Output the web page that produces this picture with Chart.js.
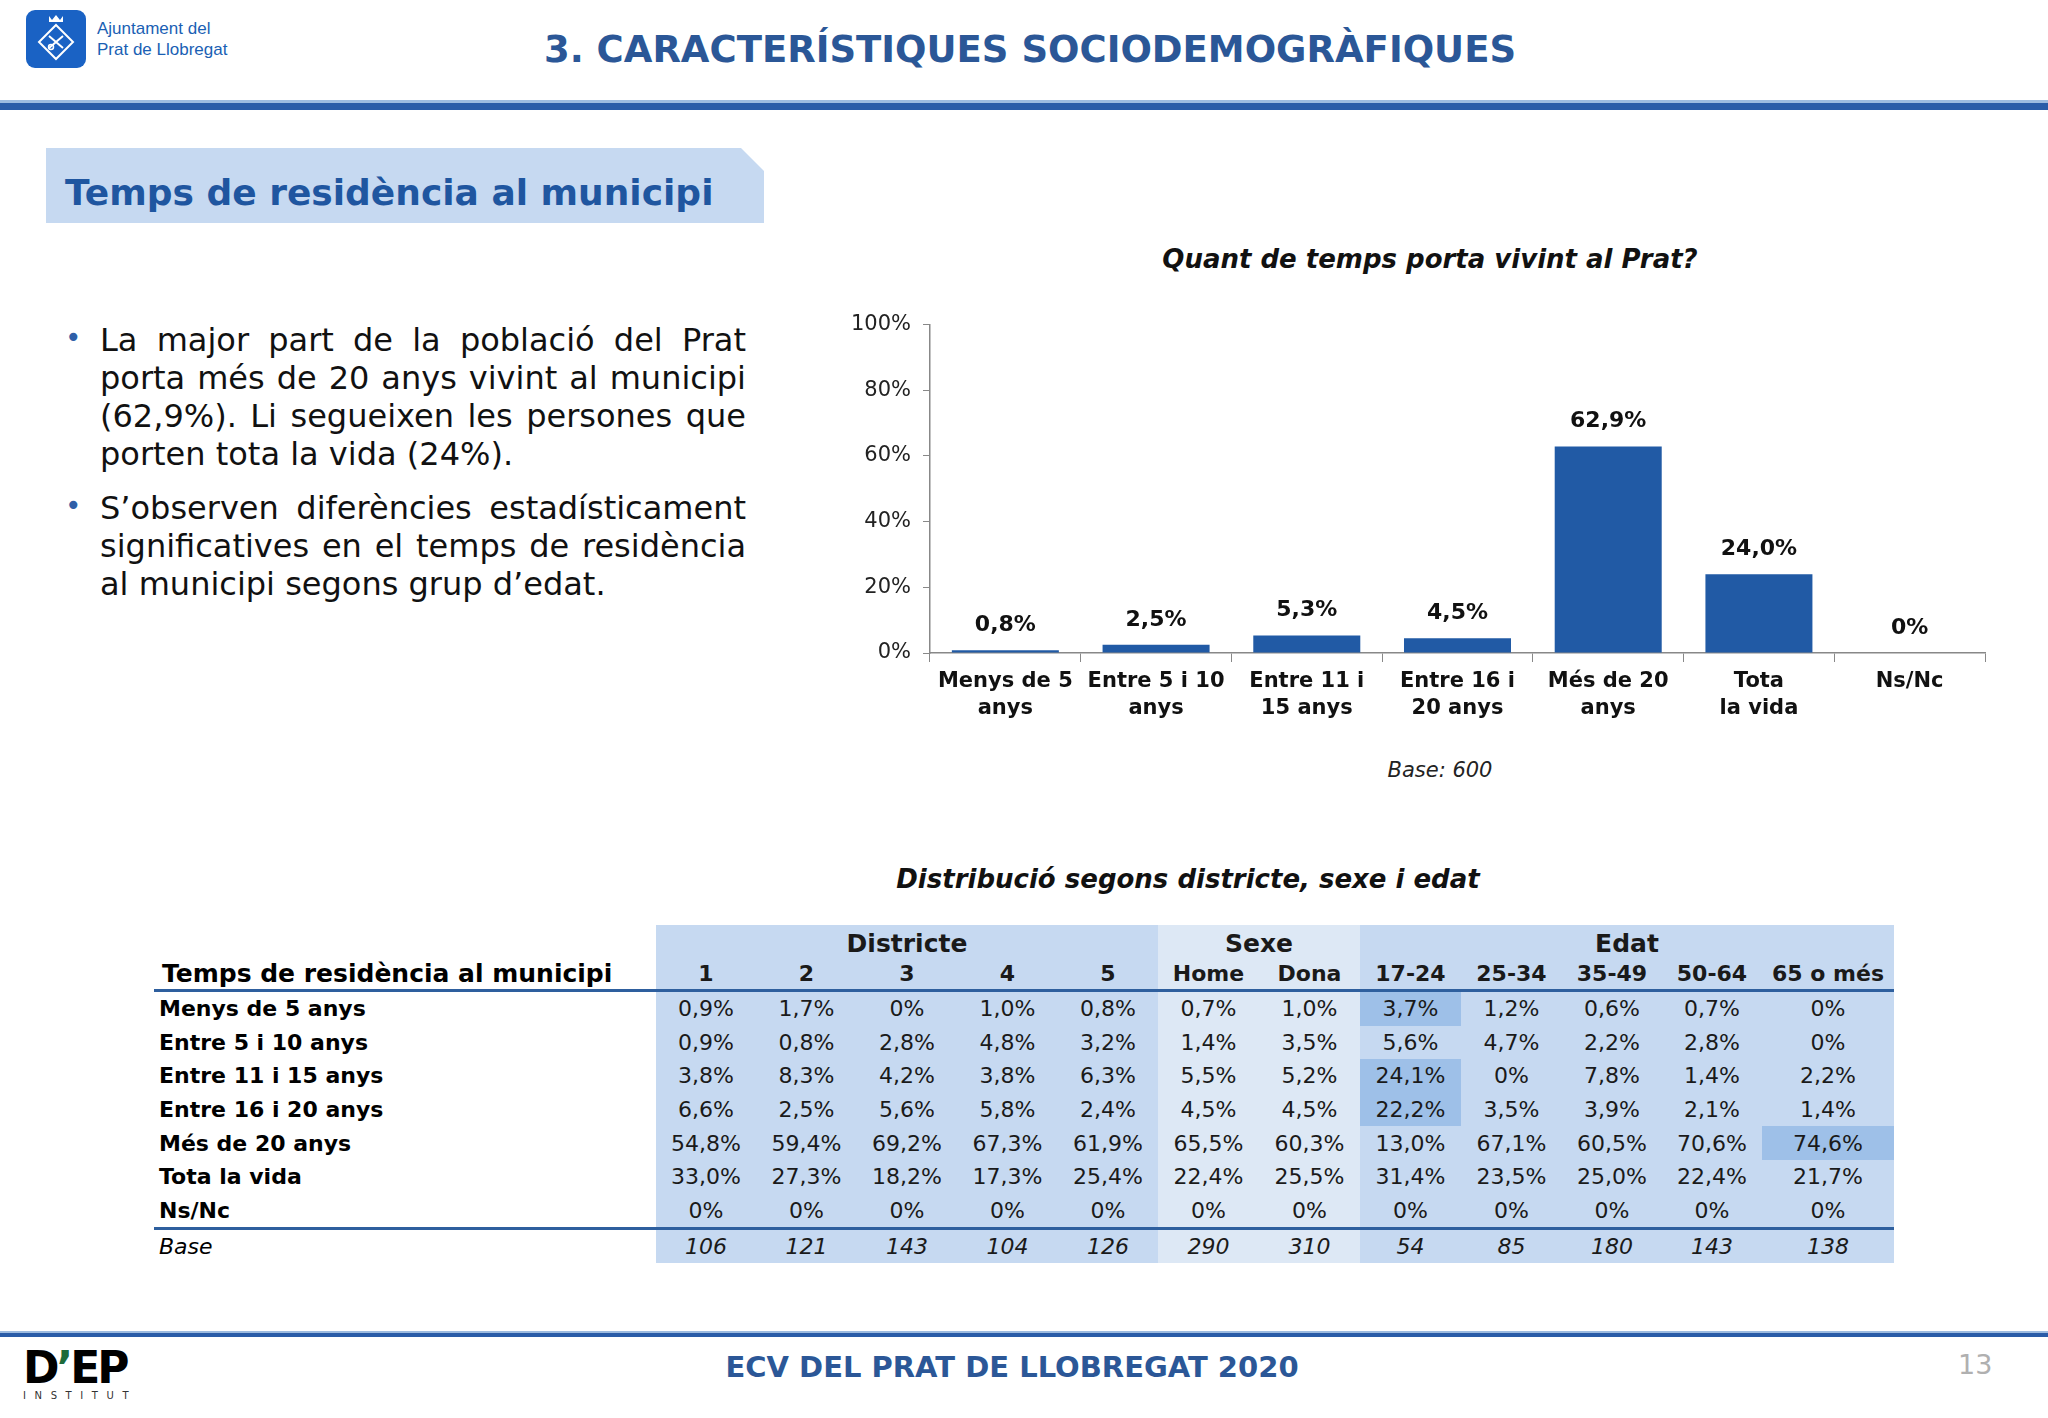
<!DOCTYPE html>
<html>
<head>
<meta charset="utf-8">
<script src="https://cdn.jsdelivr.net/npm/chart.js@4.4.1/dist/chart.umd.min.js"></script>
<style>
  html, body { margin: 0; padding: 0; background: #fff; }
  body { width: 2048px; height: 1418px; position: relative; overflow: hidden; font-family: "DejaVu Sans", Verdana, sans-serif; color: #111; }
  .abs { position: absolute; }
  #topline-light { left: 0; top: 100px; width: 2048px; height: 3px; background: #9dbbe0; }
  #topline { left: 0; top: 103px; width: 2048px; height: 7px; background: #2a5ca8; }
  #pagetitle { left: 0; top: 28px; width: 2060px; text-align: center; font-weight: bold; font-size: 37px; color: #2b5797; }
  #logo-text { left: 97px; top: 18px; font-family: "Liberation Sans Narrow", "Liberation Sans", sans-serif; font-size: 17px; line-height: 21px; color: #1a5fb4; }
  #section { left: 46px; top: 148px; width: 718px; height: 75px; background: #c6d9f1;
    clip-path: polygon(0 0, 695px 0, 718px 23px, 718px 75px, 0 75px); }
  #section span { position: absolute; left: 19px; top: 24px; font-weight: bold; font-size: 36px; color: #1f56a0; white-space: nowrap; }
  #bullets { left: 100px; top: 321px; width: 646px; font-size: 32px; line-height: 38px; color: #111; text-align: justify; }
  #bullets p { margin: 0 0 16px 0; position: relative; }
  #bullets p::before { content: "•"; position: absolute; left: -35px; top: -2px; color: #2f5fa8; font-size: 28px; }
  #chart-title { left: 1100px; top: 244px; width: 660px; text-align: center; font-weight: bold; font-style: italic; font-size: 26px; }
  #base { left: 1300px; top: 758px; width: 280px; text-align: center; font-style: italic; font-size: 21px; color: #222; }
  #chartbox { left: 820px; top: 300px; }
  #table-title { left: 858px; top: 864px; width: 660px; text-align: center; font-weight: bold; font-style: italic; font-size: 26px; }
  #tbl { left: 154px; top: 925px; border-collapse: collapse; table-layout: fixed; }
  #tbl td { padding: 0; text-align: center; font-size: 22px; white-space: nowrap; color: #1a1a1a; }
  #tbl .lbl { text-align: left; padding-left: 5px; font-weight: bold; color: #000; }
  #tbl tr.grp td { height: 33px; font-weight: bold; font-size: 25px; vertical-align: bottom; }
  #tbl tr.hdr td { height: 31px; font-weight: bold; border-bottom: 3px solid #2e5f9e; vertical-align: middle; }
  #tbl tr.hdr td.lbl { font-size: 25px; padding-left: 8px; }
  #tbl tr.row td { height: 33.6px; }
  #tbl tr.baseRow td { height: 33px; border-top: 3px solid #2e5f9e; font-style: italic; }
  #tbl tr.baseRow td.lbl { font-weight: normal; }
  .cD { background: #c6d9f1; }
  .cS { background: #dde8f5; }
  .cE { background: #c6d9f1; }
  .hi { background: #9ec0e8 !important; }
  #footline-light { left: 0; top: 1331px; width: 2048px; height: 2px; background: #9dbbe0; }
  #footline { left: 0; top: 1333px; width: 2048px; height: 4px; background: #2a5ca8; }
  #foottext { left: 0; top: 1350px; width: 2024px; text-align: center; font-weight: bold; font-size: 29px; color: #2b5797; }
  #pagenum { left: 1958px; top: 1349px; font-size: 27px; color: #b0b0b0; }
  #dep { left: 23px; top: 1346px; font-family: "DejaVu Sans", sans-serif; font-weight: bold; font-size: 44px; line-height: 44px; letter-spacing: -3px; color: #000; }
  #dep b { color: #1d6b3a; }
  #inst { left: 23px; top: 1390px; font-size: 10px; letter-spacing: 8.6px; color: #333; }
</style>
</head>
<body>

<svg class="abs" style="left:26px;top:10px" width="60" height="58" viewBox="0 0 60 58">
  <rect x="0" y="0" width="60" height="58" rx="9" fill="#1a62c4"/>
  <path d="M30 15 L47 32 L30 49 L13 32 Z" fill="none" stroke="#fff" stroke-width="2"/>
  <path d="M23 6 L26 10 L30 5 L34 10 L37 6 L37 12 L23 12 Z" fill="#fff"/>
  <path d="M23 26 L37 38 M37 26 L23 38" stroke="#fff" stroke-width="2"/>
  <circle cx="25" cy="37" r="2.5" fill="none" stroke="#fff" stroke-width="1.5"/>
</svg>
<div id="logo-text" class="abs">Ajuntament del<br>Prat de Llobregat</div>
<div id="pagetitle" class="abs">3. CARACTERÍSTIQUES SOCIODEMOGRÀFIQUES</div>
<div id="topline-light" class="abs"></div>
<div id="topline" class="abs"></div>

<div id="section" class="abs"><span>Temps de residència al municipi</span></div>

<div id="bullets" class="abs">
  <p>La major part de la població del Prat porta més de 20 anys vivint al municipi (62,9%). Li segueixen les persones que porten tota la vida (24%).</p>
  <p>S’observen diferències estadísticament significatives en el temps de residència al municipi segons grup d’edat.</p>
</div>

<div id="chart-title" class="abs">Quant de temps porta vivint al Prat?</div>
<div id="chartbox" class="abs"><canvas id="chart" width="1180" height="433"></canvas></div>
<div id="base" class="abs">Base: 600</div>

<div id="table-title" class="abs">Distribució segons districte, sexe i edat</div>
<table id="tbl" class="abs"></table>

<div id="footline-light" class="abs"></div>
<div id="footline" class="abs"></div>
<div id="dep" class="abs">D<b>’</b>EP</div>
<div id="inst" class="abs">INSTITUT</div>
<div id="foottext" class="abs">ECV DEL PRAT DE LLOBREGAT 2020</div>
<div id="pagenum" class="abs">13</div>

<script>
// bar chart data
const categories = [
    ['Menys de 5', 'anys'],
    ['Entre 5 i 10', 'anys'],
    ['Entre 11 i', '15 anys'],
    ['Entre 16 i', '20 anys'],
    ['Més de 20', 'anys'],
    ['Tota', 'la vida'],
    ['Ns/Nc']
];
const residenceValues = [0.8, 2.5, 5.3, 4.5, 62.9, 24.0, 0];
const yTicks = [0, 20, 40, 60, 80, 100];

// cross table data
const groupHeaders = [['Districte', 5, 'cD'], ['Sexe', 2, 'cS'], ['Edat', 5, 'cE']];
const columnHeaders = ['1', '2', '3', '4', '5', 'Home', 'Dona', '17-24', '25-34', '35-49', '50-64', '65 o més'];
const rowLabels = ['Menys de 5 anys', 'Entre 5 i 10 anys', 'Entre 11 i 15 anys', 'Entre 16 i 20 anys', 'Més de 20 anys', 'Tota la vida', 'Ns/Nc'];
const menysDe5 = [0.9, 1.7, 0, 1.0, 0.8, 0.7, 1.0, 3.7, 1.2, 0.6, 0.7, 0];
const entre5i10 = [0.9, 0.8, 2.8, 4.8, 3.2, 1.4, 3.5, 5.6, 4.7, 2.2, 2.8, 0];
const entre11i15 = [3.8, 8.3, 4.2, 3.8, 6.3, 5.5, 5.2, 24.1, 0, 7.8, 1.4, 2.2];
const entre16i20 = [6.6, 2.5, 5.6, 5.8, 2.4, 4.5, 4.5, 22.2, 3.5, 3.9, 2.1, 1.4];
const mesDe20 = [54.8, 59.4, 69.2, 67.3, 61.9, 65.5, 60.3, 13.0, 67.1, 60.5, 70.6, 74.6];
const totaLaVida = [33.0, 27.3, 18.2, 17.3, 25.4, 22.4, 25.5, 31.4, 23.5, 25.0, 22.4, 21.7];
const nsNc = [0, 0, 0, 0, 0, 0, 0, 0, 0, 0, 0, 0];
const baseCounts = [106, 121, 143, 104, 126, 290, 310, 54, 85, 180, 143, 138];
const highlighted = [[0, 7], [2, 7], [3, 7], [4, 11]]; // [row, col]

const columnWidths = [502, 100, 101, 100, 101, 100, 101, 101, 101, 101, 100, 100, 132];

function pct(v) {
    if (v === 0) return '0%';
    return v.toFixed(1).replace('.', ',') + '%';
}

// ---------- table ----------
function buildTable() {
    const tbl = document.getElementById('tbl');
    const rows = [menysDe5, entre5i10, entre11i15, entre16i20, mesDe20, totaLaVida, nsNc];
    const colClass = [];
    groupHeaders.forEach(g => { for (let i = 0; i < g[1]; i++) colClass.push(g[2]); });

    let html = '<colgroup>' + columnWidths.map(w => `<col style="width:${w}px">`).join('') + '</colgroup>';
    html += '<tr class="grp"><td></td>' + groupHeaders.map(g => `<td colspan="${g[1]}" class="${g[2]}">${g[0]}</td>`).join('') + '</tr>';
    html += '<tr class="hdr"><td class="lbl">Temps de residència al municipi</td>' +
        columnHeaders.map((h, i) => `<td class="${colClass[i]}">${h}</td>`).join('') + '</tr>';

    rows.forEach((vals, r) => {
        html += `<tr class="row"><td class="lbl">${rowLabels[r]}</td>`;
        vals.forEach((v, c) => {
            const hi = highlighted.some(h => h[0] === r && h[1] === c) ? ' hi' : '';
            html += `<td class="${colClass[c]}${hi}">${pct(v)}</td>`;
        });
        html += '</tr>';
    });
    html += '<tr class="baseRow"><td class="lbl">Base</td>' +
        baseCounts.map((b, c) => `<td class="${colClass[c]}">${b}</td>`).join('') + '</tr>';
    tbl.innerHTML = html;
}
buildTable();

// ---------- bar chart ----------
const barLabels = {
    id: 'barLabels',
    afterDatasetsDraw(chart) {
        const ctx = chart.ctx;
        const meta = chart.getDatasetMeta(0);
        ctx.save();
        ctx.font = 'bold 22px "DejaVu Sans"';
        ctx.fillStyle = '#111';
        ctx.textAlign = 'center';
        ctx.textBaseline = 'middle';
        meta.data.forEach((bar, i) => {
            ctx.fillText(pct(residenceValues[i]), bar.x, bar.y - 25);
        });
        ctx.restore();
    }
};

const ctx = document.getElementById('chart').getContext('2d');
const chart = new Chart(ctx, {
    type: 'bar',
    data: {
        labels: categories,
        datasets: [{
            data: residenceValues,
            backgroundColor: '#215aa5',
            borderWidth: 0,
            barPercentage: 0.71,
            categoryPercentage: 1.0
        }]
    },
    options: {
        responsive: false,
        devicePixelRatio: 1,
        animation: false,
        layout: { padding: { top: 23, right: 15, left: 0, bottom: 0 } },
        plugins: {
            legend: { display: false },
            tooltip: { enabled: false }
        },
        scales: {
            y: {
                min: 0,
                max: 100,
                afterFit: (scale) => { scale.width = 110; },
                afterBuildTicks: (scale) => { scale.ticks = yTicks.map(v => ({ value: v })); },
                grid: { drawOnChartArea: false, color: '#888', tickLength: 7 },
                border: { color: '#888', width: 1.5 },
                ticks: {
                    color: '#222',
                    font: { family: 'DejaVu Sans', size: 21 },
                    padding: 12,
                    callback: (v) => v + '%'
                }
            },
            x: {
                afterFit: (scale) => { scale.height = 80; },
                grid: { drawOnChartArea: false, color: '#888', tickLength: 9, offset: true },
                border: { color: '#888', width: 1.5 },
                ticks: {
                    color: '#111',
                    font: { family: 'DejaVu Sans', size: 21, weight: 'bold', lineHeight: 1.3 },
                    padding: 6,
                    maxRotation: 0,
                    autoSkip: false
                }
            }
        }
    },
    plugins: [barLabels]
});
</script>
</body>
</html>
